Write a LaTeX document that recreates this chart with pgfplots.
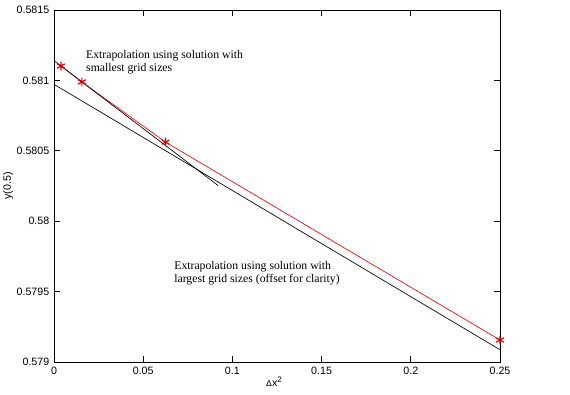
\documentclass[border=0pt]{standalone}
\usepackage{fontspec}
\setmainfont{Liberation Serif}
\newfontfamily\arial{Liberation Sans}
\usepackage{pgfplots}
\pgfplotsset{compat=1.18}
\begin{document}
\begin{tikzpicture}[x=1pt,y=1pt]
\path[use as bounding box] (-40.5,-24.75) rectangle (387,271.5);
\begin{axis}[
  at={(0,0)}, anchor=south west,
  scale only axis, width=334.5pt, height=264pt,
  xmin=0, xmax=0.25, ymin=0.579, ymax=0.5815,
  xtick={0,0.05,0.1,0.15,0.2,0.25},
  xticklabels={0,0.05,0.1,0.15,0.2,0.25},
  ytick={0.579,0.5795,0.58,0.5805,0.581,0.5815},
  yticklabels={0.579,0.5795,0.58,0.5805,0.581,0.5815},
  scaled ticks=false,
  tick align=inside, tick pos=both,
  major tick length=4.5pt,
  tick label style={font=\arial\fontsize{8}{9}\selectfont},
  axis line style={line width=0.6pt},
  every tick/.style={black, line width=0.5pt},
  xlabel={\arial\fontsize{8}{9}\selectfont{\fontsize{6.5}{7}\selectfont Δ}x\textsuperscript{2}},
  ylabel={\arial\fontsize{8}{9}\selectfont y(0.5)},
  xlabel style={at={(axis description cs:0.5,0)}, anchor=center, yshift=-15pt, xshift=-2pt},
  ylabel style={at={(axis description cs:0,0.5)}, anchor=center, yshift=34.5pt},
]
\addplot[red, line width=0.5pt, mark=asterisk, mark size=3.3pt, mark options={solid, red!85!black, line width=0.9pt}]
  coordinates {(0.00390625,0.581102) (0.015625,0.580989) (0.0625,0.580562) (0.25,0.579156)};
\addplot[black, line width=0.5pt] coordinates {(0,0.58114) (0.092,0.580253)};
\addplot[black, line width=0.5pt] coordinates {(0,0.580972) (0.25,0.579087)};
\node[anchor=west, align=left, inner sep=0, font=\fontsize{8.8}{9.75}\selectfont]
  at (axis cs:0.0179,0.58113) {Extrapolation using solution with\\smallest grid sizes};
\node[anchor=west, align=left, inner sep=0, font=\fontsize{8.8}{9.75}\selectfont]
  at (axis cs:0.0673,0.57963) {Extrapolation using solution with\\largest grid sizes (offset for clarity)};
\end{axis}
\end{tikzpicture}
\end{document}
